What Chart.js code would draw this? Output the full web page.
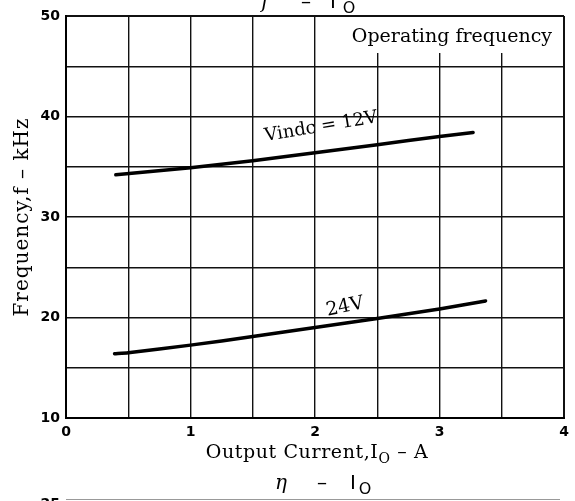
<!DOCTYPE html>
<html>
<head>
<meta charset="utf-8">
<script src="https://cdn.jsdelivr.net/npm/chart.js@4.4.0/dist/chart.umd.min.js"></script>
<style>
  body { margin: 0; background: #fff; }
  #wrap { width: 575px; height: 501px; }
</style>
</head>
<body>
<div id="wrap"><canvas id="freq-chart" width="575" height="501"></canvas></div>
<script>
// valores (Io em A, f em kHz)
const current12V = [0.4, 1.0, 1.5, 2.0, 2.5, 3.0, 3.27];
const freq12V = [34.2, 34.9, 35.6, 36.4, 37.2, 38.0, 38.4];
const current24V = [0.39, 0.5, 1.0, 1.5, 2.0, 2.5, 3.0, 3.37];
const freq24V = [16.4, 16.5, 17.25, 18.1, 19.0, 19.9, 20.85, 21.65];
const xTickLabels = [0, 1, 2, 3, 4];
const yTickLabels = [10, 20, 30, 40, 50];

const serif = '"DejaVu Serif", serif';

function toPoints(xs, ys) {
    return xs.map((x, i) => ({ x: x, y: ys[i] }));
}

// texto com subscrito, centrado em cx
function drawSub(ctx, parts, cx, y, size, spacing) {
    ctx.letterSpacing = (spacing || 0) + 'px';
    let total = 0;
    parts.forEach(p => {
        ctx.font = (p.sub ? Math.round(size * 0.75) : size) + 'px ' + serif;
        p.w = ctx.measureText(p.t).width;
        total += p.w;
    });
    let x = cx - total / 2;
    parts.forEach(p => {
        ctx.font = (p.sub ? Math.round(size * 0.75) : size) + 'px ' + serif;
        ctx.fillText(p.t, x, p.sub ? y + 5 : y);
        x += p.w;
    });
    ctx.letterSpacing = '0px';
}

// pedaços de texto em posições fixas (títulos dos gráficos vizinhos)
function drawPieces(ctx, pieces, y, size) {
    ctx.textAlign = 'center';
    pieces.forEach(p => {
        ctx.font = (p.italic ? 'italic ' : '') + (p.sub ? Math.round(size * 0.8) : size) + 'px ' + (p.sans ? '"DejaVu Sans"' : serif);
        ctx.fillText(p.t, p.x, p.sub ? y + 5 : y);
    });
    ctx.textAlign = 'left';
}

function rotatedText(ctx, text, x, y, deg, font) {
    ctx.save();
    ctx.translate(x, y);
    ctx.rotate(deg * Math.PI / 180);
    ctx.font = font;
    ctx.textAlign = 'center';
    ctx.textBaseline = 'middle';
    ctx.fillText(text, 0, 0);
    ctx.restore();
}

const labelsPlugin = {
    id: 'labels',
    beforeDatasetsDraw(chart) {
        const { ctx, chartArea, scales } = chart;
        const x0 = scales.x.getPixelForValue(2) + 1;
        ctx.save();
        ctx.fillStyle = '#fff';
        ctx.fillRect(x0, chartArea.top + 1, chartArea.right - x0 - 1, 36);
        ctx.restore();
    },
    afterDraw(chart) {
        const { ctx, chartArea } = chart;
        ctx.save();
        ctx.fillStyle = '#000';
        ctx.textBaseline = 'alphabetic';

        ctx.font = '19px ' + serif;
        ctx.textAlign = 'right';
        ctx.fillText('Operating frequency', chartArea.right - 12, 42);
        ctx.textAlign = 'left';

        // título do eixo x
        drawSub(ctx, [{ t: 'Output Current,I' }, { t: 'O', sub: true }, { t: ' – A' }], 317, 458, 19, 0.6);
        // títulos dos gráficos vizinhos (cortados)
        drawPieces(ctx, [{ t: 'f', x: 265, italic: true }, { t: '–', x: 306 }, { t: 'I', x: 333, sans: true }, { t: 'O', x: 349, sub: true, sans: true }], 8, 20);
        drawPieces(ctx, [{ t: 'η', x: 281, italic: true }, { t: '–', x: 322 }, { t: 'I', x: 353, sans: true }, { t: 'O', x: 365, sub: true, sans: true }], 489, 20);

        // título do eixo y
        ctx.save();
        ctx.translate(28, 217);
        ctx.rotate(-Math.PI / 2);
        ctx.font = '20px ' + serif;
        ctx.letterSpacing = '1px';
        ctx.textAlign = 'center';
        ctx.fillText('Frequency,f – kHz', 0, 0);
        ctx.restore();

        rotatedText(ctx, 'Vindc = 12V', 321, 127, -9.5, '18px ' + serif);
        rotatedText(ctx, '24V', 345, 307, -12, '19px ' + serif);

        // borda do gráfico de baixo
        ctx.strokeStyle = '#999';
        ctx.lineWidth = 1;
        ctx.beginPath();
        ctx.moveTo(chartArea.left, 499.5);
        ctx.lineTo(chartArea.right - 4, 499.5);
        ctx.stroke();
        ctx.font = 'bold 14px "DejaVu Sans"';
        ctx.textAlign = 'right';
        ctx.fillText('25', 60, 508);
        ctx.restore();
    }
};

const edgeWidth = (ctx, lo, hi) => (ctx.tick && (ctx.tick.value === lo || ctx.tick.value === hi)) ? 2 : 1.4;

new Chart(document.getElementById('freq-chart'), {
    type: 'line',
    data: {
        datasets: [
            { label: 'Vindc=12V', data: toPoints(current12V, freq12V) },
            { label: '24V', data: toPoints(current24V, freq24V) }
        ]
    },
    options: {
        responsive: false,
        animation: false,
        events: [],
        layout: { autoPadding: false, padding: { top: 16, right: 11, left: 0, bottom: 0 } },
        elements: {
            line: { borderColor: '#000', borderWidth: 3.5, tension: 0.2, borderCapStyle: 'round' },
            point: { radius: 0 }
        },
        plugins: { legend: { display: false }, tooltip: { enabled: false } },
        scales: {
            x: {
                type: 'linear',
                min: 0,
                max: 4,
                afterFit: s => { s.height = 83; },
                grid: { color: '#111', lineWidth: ctx => edgeWidth(ctx, 0, 4), drawTicks: false },
                border: { color: '#000', width: 2 },
                ticks: {
                    stepSize: 0.5,
                    autoSkip: false,
                    maxRotation: 0,
                    padding: 6,
                    color: '#000',
                    font: { family: '"DejaVu Sans"', size: 14, weight: 'bold' },
                    callback: v => xTickLabels.includes(v) ? v : ''
                }
            },
            y: {
                min: 10,
                max: 50,
                afterFit: s => { s.width = 66; },
                grid: { color: '#111', lineWidth: ctx => edgeWidth(ctx, 10, 50), drawTicks: false },
                border: { color: '#000', width: 2 },
                ticks: {
                    stepSize: 5,
                    autoSkip: false,
                    padding: 6,
                    color: '#000',
                    font: { family: '"DejaVu Sans"', size: 14, weight: 'bold' },
                    callback: v => yTickLabels.includes(v) ? v : ''
                }
            }
        }
    },
    plugins: [labelsPlugin]
});
</script>
</body>
</html>
